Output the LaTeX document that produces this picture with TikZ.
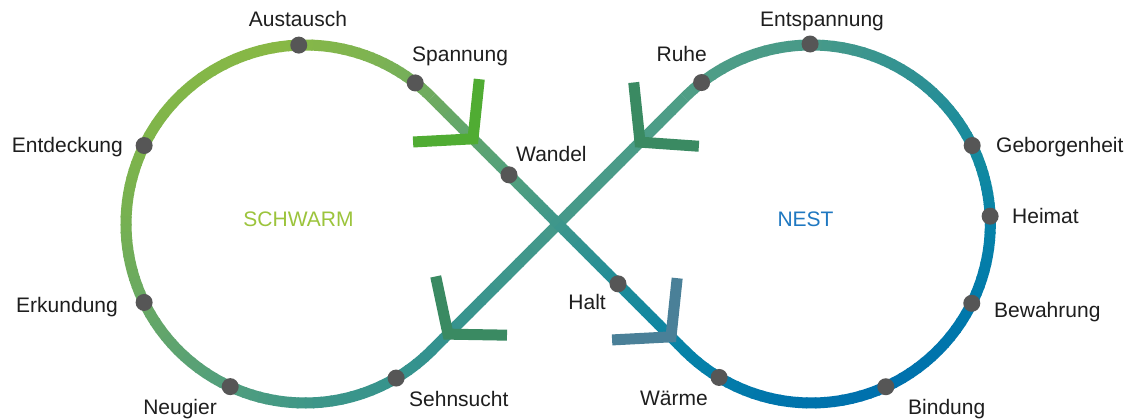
\documentclass[tikz,border=0pt]{standalone}
\usepackage{fontspec}
\setmainfont{Liberation Sans}
\usetikzlibrary{calc}
\definecolor{cL0}{HTML}{6EAB60}
\definecolor{cL1}{HTML}{7FB451}
\definecolor{cL2}{HTML}{88B845}
\definecolor{cL3}{HTML}{80B54A}
\definecolor{cL4}{HTML}{76B052}
\definecolor{cL5}{HTML}{66A766}
\definecolor{cL6}{HTML}{519E7E}
\definecolor{cL7}{HTML}{3C9689}
\definecolor{cL8}{HTML}{33928F}
\definecolor{cR0}{HTML}{4F9E86}
\definecolor{cR1}{HTML}{489A88}
\definecolor{cR2}{HTML}{2C9094}
\definecolor{cR3}{HTML}{128AA0}
\definecolor{cR4}{HTML}{0782A8}
\definecolor{cR5}{HTML}{0078AB}
\definecolor{cR6}{HTML}{0070AD}
\definecolor{cR7}{HTML}{0074AC}
\definecolor{cR8}{HTML}{0683A8}
\definecolor{cA1}{HTML}{53A07C}
\definecolor{cA2}{HTML}{3E978C}
\definecolor{cA3}{HTML}{1F8C98}
\definecolor{cB1}{HTML}{45998A}
\definecolor{arrGreen}{HTML}{50AC33}
\definecolor{arrDark}{HTML}{3A8A62}
\definecolor{arrBlue}{HTML}{4A8098}
\definecolor{dotGray}{HTML}{565656}
\definecolor{txtDark}{HTML}{1E1E1E}
\definecolor{swarmGreen}{HTML}{9CC43C}
\definecolor{nestBlue}{HTML}{1F78C1}
\newcommand\MyArcSeg[6]{%
  \foreach \k in {0,...,11}{%
    \pgfmathsetmacro\mySA{#3+(#4-#3)*\k/12}%
    \pgfmathsetmacro\myEA{#3+(#4-#3)*(\k+1)/12+((#4>#3)?0.5:-0.5)}%
    \pgfmathtruncatemacro\myPC{100-(\k+0.5)*100/12}%
    \draw[trail,color=#5!\myPC!#6] ($(#1,#2)+(\mySA:179)$) arc[start angle=\mySA,end angle=\myEA,radius=179];
  }}
\newcommand\MyLineSeg[6]{%
  \foreach \k in {0,...,9}{%
    \pgfmathsetmacro\myTA{#3+(#4-#3)*\k/10}%
    \pgfmathsetmacro\myTB{#3+(#4-#3)*(\k+1)/10+0.004}%
    \pgfmathtruncatemacro\myPC{100-(\k+0.5)*10}%
    \draw[trail,color=#5!\myPC!#6] ($(#1)!\myTA!(#2)$) -- ($(#1)!\myTB!(#2)$);
  }}
\begin{document}
\begin{tikzpicture}[x=1pt,y=1pt,
  trail/.style={line width=11pt,line cap=butt},
  arm/.style={line width=11pt,line cap=butt,line join=miter},
  dot/.style={circle,fill=dotGray,minimum size=17pt,inner sep=0pt},
  lbl/.style={inner sep=0pt,text=txtDark,font=\fontsize{21}{25}\selectfont},
  title/.style={inner sep=0pt,font=\fontsize{21}{25}\selectfont}]
\fill[white] (0,0) rectangle (1134,419);
\useasboundingbox (0,0) rectangle (1134,419);
\coordinate (CL) at (305,195);
\coordinate (CR) at (811.3,195);
\coordinate (T1) at ($(CL)+(45:179)$);
\coordinate (T4) at ($(CL)+(-45:179)$);
\coordinate (T3) at ($(CR)+(135:179)$);
\coordinate (T2) at ($(CR)+(-135:179)$);
% left loop 45 -> 315
\MyArcSeg{305}{195}{45}{70}{cL0}{cL1}
\MyArcSeg{305}{195}{70}{100}{cL1}{cL2}
\MyArcSeg{305}{195}{100}{150}{cL2}{cL3}
\MyArcSeg{305}{195}{150}{180}{cL3}{cL4}
\MyArcSeg{305}{195}{180}{210}{cL4}{cL5}
\MyArcSeg{305}{195}{210}{245}{cL5}{cL6}
\MyArcSeg{305}{195}{245}{275}{cL6}{cL7}
\MyArcSeg{305}{195}{275}{315}{cL7}{cL8}
% right loop 135 -> -135
\MyArcSeg{811.3}{195}{135}{90}{cR0}{cR1}
\MyArcSeg{811.3}{195}{90}{50}{cR1}{cR2}
\MyArcSeg{811.3}{195}{50}{20}{cR2}{cR3}
\MyArcSeg{811.3}{195}{20}{0}{cR3}{cR4}
\MyArcSeg{811.3}{195}{0}{-30}{cR4}{cR5}
\MyArcSeg{811.3}{195}{-30}{-65}{cR5}{cR6}
\MyArcSeg{811.3}{195}{-65}{-100}{cR6}{cR7}
\MyArcSeg{811.3}{195}{-100}{-135}{cR7}{cR8}
% line Ruhe -> Sehnsucht
\MyLineSeg{T3}{T4}{0}{0.5}{cR0}{cB1}
\MyLineSeg{T3}{T4}{0.5}{1}{cB1}{cL8}
% line Spannung -> Waerme
\MyLineSeg{T1}{T2}{0}{0.3}{cL0}{cA1}
\MyLineSeg{T1}{T2}{0.3}{0.5}{cA1}{cA2}
\MyLineSeg{T1}{T2}{0.5}{0.74}{cA2}{cA3}
\MyLineSeg{T1}{T2}{0.74}{1}{cA3}{cR8}
% arrow heads
\coordinate (V1) at (473,280.15);
\coordinate (V2) at (640,276.85);
\coordinate (V3) at (448,84.85);
\coordinate (V4) at (671,82.15);
\draw[arm,arrGreen] ($(V1)+(84:60)$) -- (V1) -- ($(V1)+(183:60)$);
\draw[arm,arrDark] ($(V2)+(96:60)$) -- (V2) -- ($(V2)+(-4:59)$);
\draw[arm,arrDark] ($(V3)+(102:59)$) -- (V3) -- ($(V3)+(-1:59)$);
\draw[arm,arrBlue] ($(V4)+(84:59)$) -- (V4) -- ($(V4)+(183:59)$);
% dots
\node[dot] (dAustausch) at ($(CL)+(92:179)$) {};
\node[dot] (dSpannung) at ($(CL)+(52:179)$) {};
\node[dot] (dEntdeckung) at ($(CL)+(154:179)$) {};
\node[dot] (dErkundung) at ($(CL)+(206:179)$) {};
\node[dot] (dNeugier) at ($(CL)+(245.3:179)$) {};
\node[dot] (dSehnsucht) at ($(CL)+(-59.4:179)$) {};
\node[dot] (dRuhe) at ($(CR)+(127.8:179)$) {};
\node[dot] (dEntspannung) at ($(CR)+(90.4:180)$) {};
\node[dot] (dGeborgenheit) at ($(CR)+(26:179)$) {};
\node[dot] (dHeimat) at ($(CR)+(2.5:179)$) {};
\node[dot] (dBewahrung) at ($(CR)+(-26.3:179)$) {};
\node[dot] (dBindung) at ($(CR)+(-65.4:179)$) {};
\node[dot] (dWaerme) at ($(CR)+(-121:179)$) {};
\node[dot] (dWandel) at (509,244.15) {};
\node[dot] (dHalt) at (618,135.15) {};
% labels
\node[lbl,anchor=base] (lAustausch) at (298,392) {Austausch};
\node[lbl,anchor=base west] (lSpannung) at (412,357) {Spannung};
\node[lbl,anchor=base east] (lEntdeckung) at (123,266) {Entdeckung};
\node[lbl,anchor=base west] (lWandel) at (516,257) {Wandel};
\node[lbl,anchor=base east] (lRuhe) at (707,357) {Ruhe};
\node[lbl,anchor=base] (lEntspannung) at (822,392) {Entspannung};
\node[lbl,anchor=base west] (lGeborgenheit) at (996,266) {Geborgenheit};
\node[lbl,anchor=base west] (lHeimat) at (1012,195) {Heimat};
\node[lbl,anchor=base west] (lBewahrung) at (994,101) {Bewahrung};
\node[lbl,anchor=base west] (lBindung) at (908,4) {Bindung};
\node[lbl,anchor=base east] (lWaerme) at (708,13) {Wärme};
\node[lbl,anchor=base east] (lHalt) at (606,109) {Halt};
\node[lbl,anchor=base east] (lErkundung) at (118,106) {Erkundung};
\node[lbl,anchor=base east] (lNeugier) at (217,4) {Neugier};
\node[lbl,anchor=base west] (lSehnsucht) at (409,12) {Sehnsucht};
\node[title,text=swarmGreen,anchor=base] (tSchwarm) at (298.5,192) {SCHWARM};
\node[title,text=nestBlue,anchor=base] (tNest) at (805.5,192) {NEST};
\end{tikzpicture}
\end{document}
